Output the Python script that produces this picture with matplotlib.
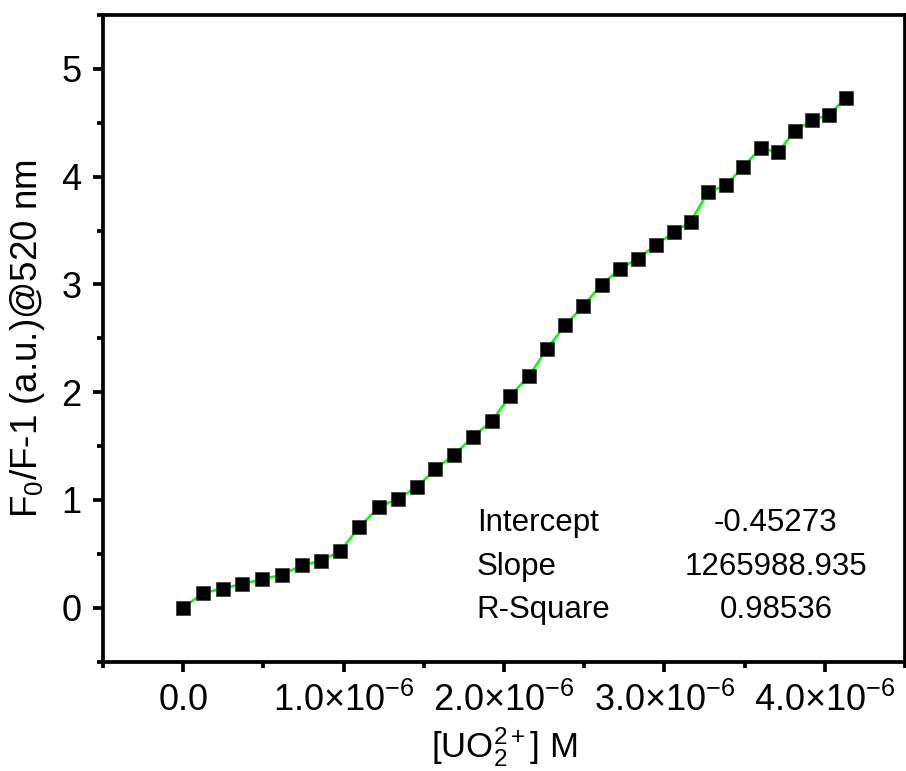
#!/usr/bin/env python3
# -*- coding: utf-8 -*-

"""Stern-Volmer style plot of F0/F-1 against uranyl concentration."""

import matplotlib as mpl
mpl.use('Agg')
import matplotlib.pyplot as plt
import matplotlib.ticker as mticker

# Data.
conc = [0.0, 0.1227e-6, 0.2473e-6, 0.3695e-6, 0.4941e-6, 0.6187e-6,
        0.7396e-6, 0.8598e-6, 0.9782e-6, 1.0984e-6, 1.2193e-6, 1.3396e-6,
        1.4561e-6, 1.5720e-6, 1.6900e-6, 1.8087e-6, 1.9252e-6, 2.0393e-6,
        2.1558e-6, 2.2679e-6, 2.3819e-6, 2.4941e-6, 2.6087e-6, 2.7227e-6,
        2.8330e-6, 2.9452e-6, 3.0592e-6, 3.1632e-6, 3.2729e-6, 3.3832e-6,
        3.4910e-6, 3.6012e-6, 3.7072e-6, 3.8131e-6, 3.9190e-6, 4.0268e-6,
        4.1308e-6]
ratio = [0.000, 0.134, 0.177, 0.220, 0.264, 0.306, 0.393, 0.433, 0.526,
         0.748, 0.934, 1.011, 1.120, 1.285, 1.421, 1.588, 1.736, 1.968,
         2.151, 2.402, 2.622, 2.801, 2.999, 3.145, 3.238, 3.365, 3.484,
         3.581, 3.860, 3.918, 4.092, 4.266, 4.225, 4.423, 4.522, 4.575,
         4.730]

xticks = [0.0, 1.0e-6, 2.0e-6, 3.0e-6, 4.0e-6]
xtick_labels = ['0.0', '1.0×10$^{-6}$', '2.0×10$^{-6}$', '3.0×10$^{-6}$',
                '4.0×10$^{-6}$']
yticks = [0, 1, 2, 3, 4, 5]

fit_names = ['Intercept', 'Slope', 'R-Square']
fit_values = ['-0.45273', '1265988.935', '0.98536']

# Fonts: an Arial-like face for everything, including mathtext.
plt.rcParams['font.family'] = ['Liberation Sans', 'DejaVu Sans']
plt.rcParams['mathtext.fontset'] = 'custom'
plt.rcParams['mathtext.rm'] = 'Liberation Sans'
plt.rcParams['mathtext.it'] = 'Liberation Sans:italic'
plt.rcParams['mathtext.default'] = 'regular'

fig = plt.figure(figsize=(9.06, 7.71), dpi=100)
ax = fig.add_axes([0.1137, 0.142, 0.8852, 0.8385])

# Connecting line and square markers.
ax.plot(conc, ratio, color='#00ff00', linewidth=1.8, zorder=2)
ax.plot(conc, ratio, linestyle='None', marker='s', markersize=10.2,
        color='black', markeredgecolor='#333333', markeredgewidth=0.5,
        zorder=3)

ax.set_xlim(-0.5e-6, 4.5e-6)
ax.set_ylim(-0.5, 5.5)

ax.set_xticks(xticks)
ax.xaxis.set_major_formatter(mticker.FixedFormatter(xtick_labels))
ax.xaxis.set_minor_locator(mticker.MultipleLocator(0.5e-6))
ax.set_yticks(yticks)
ax.yaxis.set_minor_locator(mticker.MultipleLocator(0.5))

for side in ['left', 'bottom', 'top', 'right']:
    ax.spines[side].set_linewidth(2.7)

ax.tick_params(which='major', direction='out', length=7.5, width=2.7,
               labelsize=26)
ax.tick_params(which='minor', direction='out', length=4.5, width=2.7)
ax.tick_params(axis='x', which='major', pad=8)
ax.tick_params(axis='y', which='major', pad=8)

ax.set_xlabel('[UO$_2^{2+}$] M', fontsize=25, labelpad=4)
ax.set_ylabel('F$_0$/F-1 (a.u.)@520 nm', fontsize=26.5, labelpad=10)

# Fit parameter table.
row_y = [0.214, 0.146, 0.080]
for name, value, y in zip(fit_names, fit_values, row_y):
    ax.text(0.466, y, name, transform=ax.transAxes, fontsize=22.5,
            ha='left', va='center')
    ax.text(0.839, y, value, transform=ax.transAxes, fontsize=22.5,
            ha='center', va='center')

fig.savefig('out.png', dpi=100)
